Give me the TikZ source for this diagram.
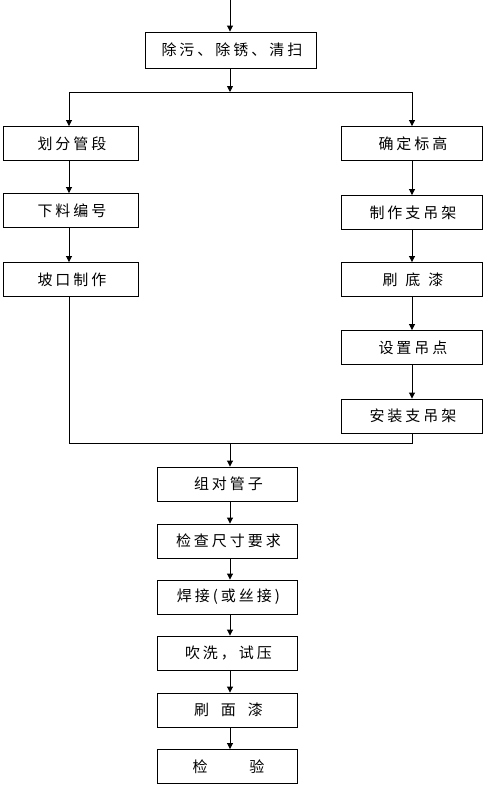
\documentclass[tikz,border=0pt]{standalone}
\usepackage{fontspec}
\newfontfamily\cjk[LetterSpace=20]{Noto Sans CJK SC}
\usetikzlibrary{arrows.meta}
\begin{document}
\begin{tikzpicture}[x=1pt,y=-1pt,
  box/.style={draw,line width=0.9pt,minimum height=34pt,inner sep=0pt,font=\cjk\fontsize{15}{15}\selectfont},
  lbox/.style={box,minimum width=135pt},
  rbox/.style={box,minimum width=141pt},
  cbox/.style={box,minimum width=140pt},
  tbox/.style={box,minimum width=171pt,minimum height=36pt},
  arr/.style={line width=0.9pt,-{Triangle[width=6pt,length=6pt]}},
  ln/.style={line width=0.9pt}]
\useasboundingbox (0,0) rectangle (483,787);
\coordinate (start) at (230,0);
\node[tbox] (t) at (230.5,50) {\hspace{3pt}除污、除锈、清扫};
\coordinate (split) at (230,92);
\coordinate (sl) at (69,92);
\coordinate (sr) at (412,92);
\node[lbox] (l1) at (70.5,143.5) {\hspace{3pt}划分管段};
\node[lbox] (l2) at (70.5,210.5) {\hspace{3pt}下料编号};
\node[lbox] (l3) at (70.5,279.5) {\hspace{3pt}坡口制作};
\node[rbox] (r1) at (411.5,143.5) {\hspace{3pt}确定标高};
\node[rbox] (r2) at (411.5,212.5) {\hspace{3pt}制作支吊架};
\node[rbox] (r3) at (411.5,279.5) {\hspace{3pt}刷\hspace{8pt}底\hspace{8pt}漆};
\node[rbox] (r4) at (411.5,347.5) {\hspace{3pt}设置吊点};
\node[rbox] (r5) at (411.5,416) {\hspace{3pt}安装支吊架};
\coordinate (jl) at (69,443);
\coordinate (jr) at (412,443);
\coordinate (jc) at (230,443);
\node[cbox] (c1) at (227,484) {\hspace{3pt}组对管子};
\node[cbox] (c2) at (227,541) {\hspace{3pt}检查尺寸要求};
\node[cbox] (c3) at (227,597) {\hspace{3pt}焊接(或丝接)};
\node[cbox] (c4) at (227,653) {\hspace{3pt}吹洗，试压};
\node[cbox] (c5) at (227,710) {\hspace{3pt}刷\hspace{12pt}面\hspace{12pt}漆};
\node[cbox] (c6) at (227,766.5) {\hspace{3pt}检\hspace{42pt}验};
\draw[arr] (start) -- (start |- t.north);
\draw[arr] (t.south -| split) -- (split);
\draw[ln] (sl) -- (sr);
\draw[arr] (sl) -- (sl |- l1.north);
\draw[arr] (sr) -- (sr |- r1.north);
\draw[arr] (l1.south -| sl) -- (sl |- l2.north);
\draw[arr] (l2.south -| sl) -- (sl |- l3.north);
\draw[arr] (r1.south -| sr) -- (sr |- r2.north);
\draw[arr] (r2.south -| sr) -- (sr |- r3.north);
\draw[arr] (r3.south -| sr) -- (sr |- r4.north);
\draw[arr] (r4.south -| sr) -- (sr |- r5.north);
\draw[ln] (l3.south -| sl) -- (jl) -- (jr) -- (r5.south -| sr);
\draw[arr] (jc) -- (jc |- c1.north);
\draw[arr] (c1.south -| jc) -- (jc |- c2.north);
\draw[arr] (c2.south -| jc) -- (jc |- c3.north);
\draw[arr] (c3.south -| jc) -- (jc |- c4.north);
\draw[arr] (c4.south -| jc) -- (jc |- c5.north);
\draw[arr] (c5.south -| jc) -- (jc |- c6.north);
\end{tikzpicture}
\end{document}
